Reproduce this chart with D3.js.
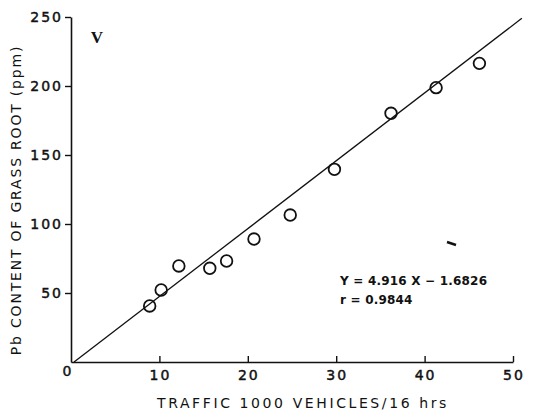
<!DOCTYPE html>
<html>
<head>
<meta charset="utf-8">
<script src="https://cdn.jsdelivr.net/npm/d3@7/dist/d3.min.js"></script>
<style>
  html, body { margin: 0; padding: 0; background: #fff; }
  svg { display: block; }
  text { fill: #111; }
</style>
</head>
<body>
<svg id="chart" width="541" height="417"></svg>
<script>
// Traffic volume (thousand vehicles / 16 h) and Pb in grass root (ppm)
const traffic = [8.9, 10.2, 12.2, 15.7, 17.6, 20.7, 24.8, 29.8, 36.2, 41.3, 46.2];
const leadPpm = [40.6, 52.2, 69.6, 67.9, 73.2, 89.1, 106.5, 139.6, 180.2, 198.8, 216.4];

// Fitted regression: Y = 4.916 X - 1.6826, r = 0.9844
const slope = 4.916;
const intercept = -1.6826;
const fitRange = [-intercept / slope, 51];

const xTicks = [10, 20, 30, 40, 50];
const yTicks = [50, 100, 150, 200, 250];

const svg = d3.select("#chart");
const x = d3.scaleLinear().domain([0, 50]).range([71, 513]);
const y = d3.scaleLinear().domain([0, 250]).range([362, 17]);

const ink = "#111";
const labelFont = "'DejaVu Sans', sans-serif";

// Y axis: ticks pointing outward
const yAxis = svg.append("g")
  .attr("transform", `translate(${x(0)},0)`)
  .call(d3.axisLeft(y).tickValues(yTicks).tickSize(6).tickPadding(2).tickSizeOuter(0));
// X axis: ticks pointing inward
const xAxis = svg.append("g")
  .attr("transform", `translate(0,${y(0)})`)
  .call(d3.axisBottom(x).tickValues(xTicks).tickSize(-6).tickPadding(0).tickSizeOuter(0).tickFormat(() => ""));

[yAxis, xAxis].forEach(g => {
  g.select(".domain").attr("stroke", ink).attr("stroke-width", 1.6);
  g.selectAll(".tick line").attr("stroke", ink).attr("stroke-width", 1.4);
});
yAxis.selectAll(".tick text")
  .attr("font-family", labelFont).attr("font-size", 14)
  .attr("letter-spacing", 2).attr("fill", ink)
  .attr("stroke", ink).attr("stroke-width", 0.45);

// X tick labels sit below the axis
svg.append("g").selectAll("text")
  .data(xTicks)
  .join("text")
  .attr("x", d => x(d) + 1)
  .attr("y", y(0) + 18)
  .attr("text-anchor", "middle")
  .attr("font-family", labelFont).attr("font-size", 14).attr("letter-spacing", 2)
  .attr("stroke", ink).attr("stroke-width", 0.45)
  .text(d => d);

// Shared origin label
svg.append("text")
  .attr("x", x(0) - 4).attr("y", y(0) + 14)
  .attr("text-anchor", "middle")
  .attr("font-family", labelFont).attr("font-size", 14)
  .attr("stroke", ink).attr("stroke-width", 0.45)
  .text("0");

// Regression line
svg.append("line")
  .attr("x1", x(fitRange[0])).attr("y1", y(slope * fitRange[0] + intercept))
  .attr("x2", x(fitRange[1])).attr("y2", y(slope * fitRange[1] + intercept))
  .attr("stroke", ink).attr("stroke-width", 1.3);

// Observations
svg.append("g").selectAll("circle")
  .data(traffic.map((t, i) => [t, leadPpm[i]]))
  .join("circle")
  .attr("cx", d => x(d[0]))
  .attr("cy", d => y(d[1]))
  .attr("r", 5.8)
  .attr("fill", "none")
  .attr("stroke", ink)
  .attr("stroke-width", 1.8);

// Panel numeral
svg.append("text")
  .attr("x", 97).attr("y", 43)
  .attr("text-anchor", "middle")
  .attr("font-family", "'Liberation Serif', serif")
  .attr("font-size", 17).attr("font-weight", "bold")
  .text("V");

// Equation
const eq = svg.append("text")
  .attr("font-family", labelFont).attr("font-size", 12)
  .attr("font-weight", "bold").attr("letter-spacing", 0.2);
eq.append("tspan").attr("x", 340).attr("y", 285).text("Y = 4.916 X \u2212 1.6826");
eq.append("tspan").attr("x", 340).attr("y", 304).text("r = 0.9844");

// Small stray mark
svg.append("line")
  .attr("x1", 447).attr("y1", 242).attr("x2", 456).attr("y2", 245)
  .attr("stroke", ink).attr("stroke-width", 2.5);

// Axis titles
svg.append("text")
  .attr("x", 303).attr("y", 408)
  .attr("text-anchor", "middle")
  .attr("font-family", labelFont).attr("font-size", 14)
  .attr("letter-spacing", 2.6)
  .text("TRAFFIC 1000 VEHICLES/16 hrs");

svg.append("text")
  .attr("transform", "translate(21,200) rotate(-90)")
  .attr("text-anchor", "middle")
  .attr("font-family", labelFont).attr("font-size", 14)
  .attr("letter-spacing", 1.8)
  .text("Pb CONTENT OF GRASS ROOT (ppm)");
</script>
</body>
</html>
